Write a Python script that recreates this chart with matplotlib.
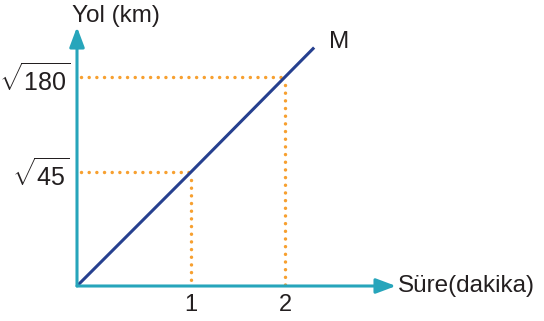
import numpy as np
import matplotlib
matplotlib.use("Agg")
import matplotlib.pyplot as plt

plt.rcParams['font.family'] = ['Liberation Sans', 'DejaVu Sans']
plt.rcParams['mathtext.fontset'] = 'custom'
plt.rcParams['mathtext.rm'] = 'Liberation Sans'
plt.rcParams['mathtext.it'] = 'Liberation Sans'

# data
times = [0, 1, 2]                            # dakika
distances = [0, np.sqrt(45), np.sqrt(180)]   # km
tick_x = [1, 2]
tick_x_labels = ['1', '2']
tick_y = [np.sqrt(45), np.sqrt(180)]
tick_y_labels = [r'$\sqrt{45}$', r'$\sqrt{180}$']
line_end_t = 2.31
line_label = 'M'
xlabel = 'Süre(dakika)'
ylabel = 'Yol (km)'

W, H = 544, 321
fig = plt.figure(figsize=(W / 100, H / 100), dpi=100)
ax = fig.add_axes([0, 0, 1, 1])


def piecewise_scale(xp, fp):
    xp = np.asarray(xp, float)
    fp = np.asarray(fp, float)
    s0 = (fp[1] - fp[0]) / (xp[1] - xp[0])
    s1 = (fp[-1] - fp[-2]) / (xp[-1] - xp[-2])

    def fwd(v):
        v = np.asarray(v, float)
        out = np.interp(v, xp, fp)
        out = np.where(v < xp[0], fp[0] + (v - xp[0]) * s0, out)
        out = np.where(v > xp[-1], fp[-1] + (v - xp[-1]) * s1, out)
        return out

    def inv(u):
        u = np.asarray(u, float)
        out = np.interp(u, fp, xp)
        out = np.where(u < fp[0], xp[0] + (u - fp[0]) / s0, out)
        out = np.where(u > fp[-1], xp[-1] + (u - fp[-1]) / s1, out)
        return out
    return fwd, inv


# drawn (not-to-scale) layout of the original sketch, in pixels from origin
xfwd, xinv = piecewise_scale(times, [0, 114, 208])
yfwd, yinv = piecewise_scale(distances, [0, 114, 209])
ax.set_xscale('function', functions=(xfwd, xinv))
ax.set_yscale('function', functions=(yfwd, yinv))

x0, y0 = 77.0, 321 - 286.0
ax.set_xlim(float(xinv(-x0)), float(xinv(W - x0)))
ax.set_ylim(float(yinv(-y0)), float(yinv(H - y0)))
ax.axis('off')

teal = '#27a5bb'
navy = '#26408f'
orange = '#f7a030'
txt = '#231f20'

# axes with arrows
x_tip = float(xinv(396 - x0))
y_tip = float(yinv(321 - 27 - y0))
for tip in [(x_tip, 0), (0, y_tip)]:
    ax.annotate('', xy=tip, xytext=(0, 0),
                arrowprops=dict(arrowstyle='-|>,head_length=1.2,head_width=0.45',
                                color=teal, lw=2.2, shrinkA=0, shrinkB=0),
                zorder=4)

# dotted guides
dots = (0, (0.01, 2.2))
for t, d in zip(times[1:], distances[1:]):
    ax.plot([float(xinv(4)), t], [d, d], linestyle=dots, color=orange, lw=2.5,
            dash_capstyle='round', zorder=2)
    ax.plot([t, t], [float(yinv(yfwd(d) - 8)), 0], linestyle=dots, color=orange,
            lw=2.5, dash_capstyle='round', zorder=2)

# line M (through data points)
slope = distances[1] / times[1]
line_t = times + [line_end_t]
line_d = distances + [slope * line_end_t]
ax.plot(line_t, line_d, color=navy, lw=2.2, solid_capstyle='butt', zorder=3)
ax.text(float(xinv(xfwd(line_end_t) + 15)), float(yinv(yfwd(slope * line_end_t) + 6)),
        line_label, fontsize=17.5, ha='left', va='center', color=txt)

# tick labels
for t, lab in zip(tick_x, tick_x_labels):
    ax.text(t, float(yinv(-19)), lab, fontsize=17, ha='center', va='center', color=txt)
for d, lab in zip(tick_y, tick_y_labels):
    ax.text(float(xinv(-7)), float(yinv(yfwd(d) - 3)), lab, fontsize=18,
            ha='right', va='center', color=txt)

ax.text(float(xinv(396 - x0 + 2)), 0, xlabel, fontsize=17.5, ha='left',
        va='center', color=txt)
ax.text(float(xinv(116 - x0)), float(yinv(321 - 16 - y0)), ylabel, fontsize=17.5,
        ha='center', va='center', color=txt)

fig.savefig('out.png', dpi=100)
